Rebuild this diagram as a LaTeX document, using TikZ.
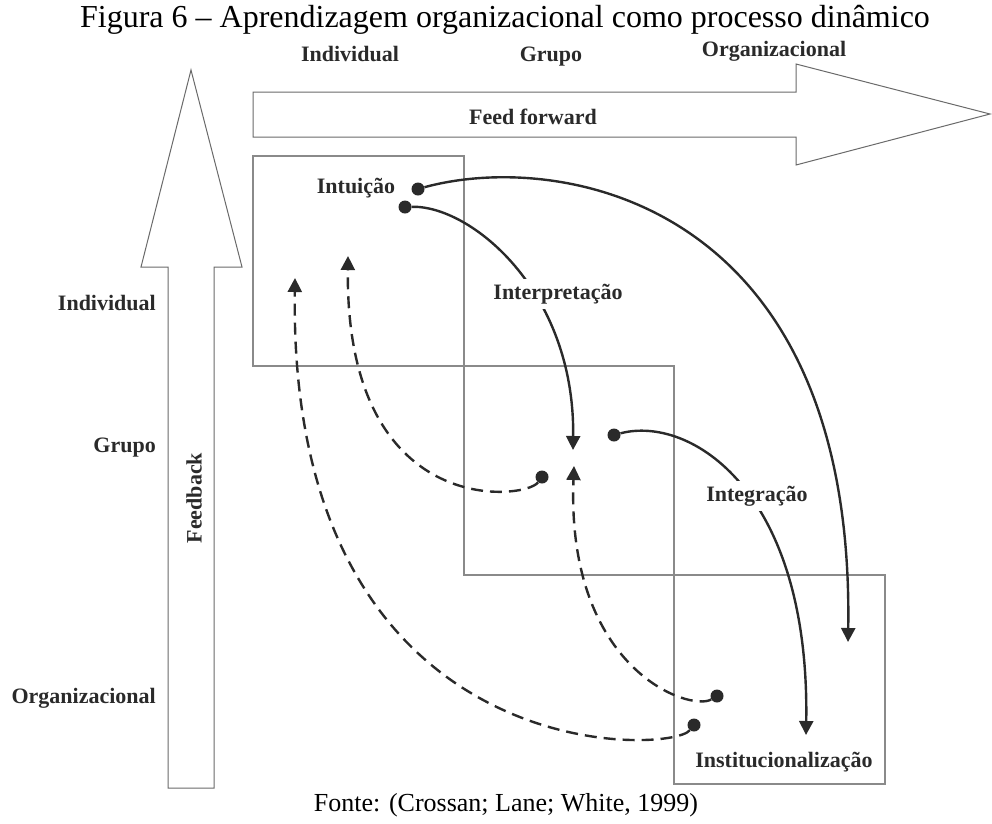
\documentclass[tikz,border=0pt]{standalone}
\usepackage{fontspec}
\setmainfont{Liberation Serif}
\usetikzlibrary{arrows.meta}
\definecolor{dk}{HTML}{2A2A2A}
\definecolor{boxc}{HTML}{8A8A8A}
\definecolor{arrc}{HTML}{6A6A6A}
\begin{document}
\begin{tikzpicture}[x=1pt,y=-1pt,
  lbl/.style={font=\bfseries\fontsize{22}{26}\selectfont, text=dk, inner sep=1pt},
  tag/.style={lbl, fill=white, inner sep=5pt},
  dotn/.style={circle, fill=dk, inner sep=0pt, minimum size=13pt},
  flow/.style={draw=dk, line width=2.4pt, -{Triangle[length=14pt,width=14pt]}},
  dflow/.style={flow, dash pattern=on 12pt off 7pt},
  boxline/.style={draw=boxc, line width=1.2pt},
  bigarrow/.style={draw=arrc, line width=1pt, fill=white}]
\useasboundingbox (0,0) rectangle (992,823);

% title and source
\node (title) at (505,20) {\fontsize{32}{38}\selectfont Figura 6 -- Aprendizagem organizacional como processo dinâmico};
\node (fonte) at (506,805) {\fontsize{26}{30}\selectfont Fonte: (Crossan; Lane; White, 1999)};

% column headers
\node[lbl] (hInd) at (350,54) {Individual};
\node[lbl] (hGru) at (551,57) {Grupo};
\node[lbl] (hOrg) at (774,51) {Organizacional};

% row headers
\node[lbl, anchor=east] (rInd) at (157,303) {Individual};
\node[lbl, anchor=east] (rGru) at (157,448) {Grupo};
\node[lbl, anchor=east] (rOrg) at (157,698) {Organizacional};

% big arrows
\draw[bigarrow] (253,92) -- (796,92) -- (796,64) -- (990,114) -- (796,165) -- (796,137) -- (253,137) -- cycle;
\node[lbl] (ff) at (533,117) {Feed forward};
\draw[bigarrow] (168,788) -- (168,267) -- (141,267) -- (191,70) -- (242,267) -- (214,267) -- (214,788) -- cycle;
\node[lbl, rotate=90] (fb) at (194,498) {Feedback};

% boxes
\draw[boxline] (253,156) rectangle (464,366);
\draw[boxline] (464,366) rectangle (674,575);
\draw[boxline] (674,575) rectangle (885,784);

% dots
\node[dotn] (dA) at (418,189) {};
\node[dotn] (dB) at (405,207) {};
\node[dotn] (dC) at (614,435) {};
\node[dotn] (dD) at (542,477) {};
\node[dotn] (dE) at (717,696) {};
\node[dotn] (dF) at (694,725) {};

% arrow ends
\coordinate (tA) at (848,642);
\coordinate (tB) at (573,450);
\coordinate (tC) at (806,735);
\coordinate (tD) at (348,256);
\coordinate (tE) at (574,466);
\coordinate (tF) at (295,278);

% connectors
\draw[flow] (dA) .. controls (560,150) and (855,200) .. (tA);
\draw[flow] (dB) .. controls (470,205) and (575,290) .. (tB);
\draw[flow] (dC) .. controls (690,415) and (810,490) .. (tC);
\draw[dflow] (dD) .. controls (525,500) and (345,520) .. (tD);
\draw[dflow] (dE) .. controls (690,712) and (566,670) .. (tE);
\draw[dflow] (dF) .. controls (670,755) and (288,770) .. (tF);

% stage labels
\node[lbl] (intu) at (356,188) {Intuição};
\node[tag] (interp) at (558,294) {Interpretação};
\node[tag] (integ) at (757,496) {Integração};
\node[lbl] (inst) at (784,762) {Institucionalização};
\end{tikzpicture}
\end{document}
